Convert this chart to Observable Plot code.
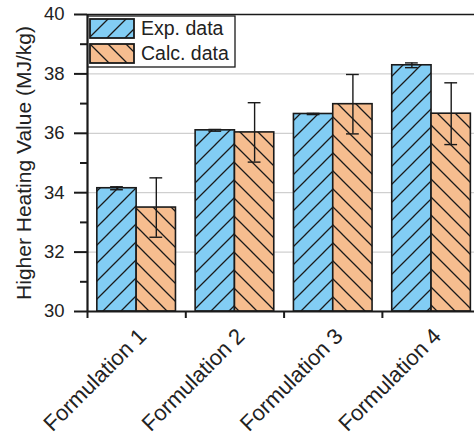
<!DOCTYPE html>
<html>
<head>
<meta charset="utf-8">
<script src="https://cdn.jsdelivr.net/npm/d3@7"></script>
<script src="https://cdn.jsdelivr.net/npm/@observablehq/plot@0.6"></script>
<style>
  html, body { margin: 0; padding: 0; background: #fff; }
  #chart svg { display: block; }
</style>
</head>
<body>
<div id="chart"></div>
<script>
// ---- data ----
const formulations = ["Formulation 1", "Formulation 2", "Formulation 3", "Formulation 4"];
const expValues  = [34.15, 36.10, 36.65, 38.29];
const expErrors  = [0.05, 0.03, 0.02, 0.08];
const calcValues = [33.50, 36.03, 36.98, 36.66];
const calcErrors = [1.00, 1.00, 1.00, 1.04];
const seriesNames = ["Exp. data", "Calc. data"];
const seriesColors = ["#82cdf4", "#f6bd8f"];
const yTicks = [30, 32, 34, 36, 38, 40];
const yMinorTicks = [31, 33, 35, 37, 39];
const yGrid = [32, 34, 36, 38];

// ---- table built from arrays ----
const barWidth = 0.4;
const rows = [];
formulations.forEach((name, i) => {
  [[expValues, expErrors], [calcValues, calcErrors]].forEach(([vals, errs], s) => {
    const x1 = (i + 1) - barWidth + s * barWidth;
    rows.push({name, series: s, x1, x2: x1 + barWidth, center: x1 + barWidth / 2,
      value: vals[i], lo: vals[i] - errs[i], hi: vals[i] + errs[i]});
  });
});
const capHalf = 0.065;
const patternIds = ["hatch-exp", "hatch-calc"];

const ink = "#1a1a1a";
const fontFamily = "'Liberation Sans', Arial, sans-serif";
const svg = Plot.plot({
  width: 474,
  height: 437,
  marginLeft: 87,
  marginRight: 0,
  marginTop: 14,
  marginBottom: 126,
  x: {domain: [0.5, 4.437], axis: null},
  y: {domain: [30, 40], axis: null},
  style: {fontFamily, background: "#fff", color: "#222"},
  marks: [
    Plot.ruleY(yGrid, {stroke: "#c4c4c4", strokeWidth: 1}),
    ...seriesNames.map((nm, s) =>
      Plot.rectY(rows.filter(d => d.series === s), {
        x1: "x1", x2: "x2", y1: 30, y2: "value",
        fill: `url(#${patternIds[s]})`, stroke: ink, strokeWidth: 1.6
      })),
    Plot.ruleX(rows, {x: "center", y1: "lo", y2: "hi", stroke: ink, strokeWidth: 1.4}),
    Plot.ruleY(rows, {y: "lo", x1: d => d.center - capHalf, x2: d => d.center + capHalf, stroke: ink, strokeWidth: 1.4}),
    Plot.ruleY(rows, {y: "hi", x1: d => d.center - capHalf, x2: d => d.center + capHalf, stroke: ink, strokeWidth: 1.4}),
    // frame lines
    Plot.ruleY([40], {stroke: ink, strokeWidth: 1.5}),
    Plot.ruleY([30], {stroke: ink, strokeWidth: 2.2}),
    Plot.ruleX([0.5], {stroke: ink, strokeWidth: 2.2}),
    // y axis
    Plot.axisY({ticks: yTicks, tickSize: 13, tickPadding: 10, fontSize: 18.5, label: null,
      tickFormat: d => String(d), strokeWidth: 2, stroke: ink, fill: "#222"}),
    Plot.axisY({ticks: yMinorTicks, tickSize: 7, label: null, tickFormat: () => "", strokeWidth: 2, stroke: ink}),
    // x axis ticks at group boundaries
    Plot.axisX({ticks: [0.5, 1.5, 2.5, 3.5], tickSize: 7, label: null, tickFormat: () => "", strokeWidth: 2, stroke: ink}),
    // x labels
    Plot.axisX({ticks: [1, 2, 3, 4], tickSize: 0, tickPadding: 6, label: null,
      tickFormat: i => formulations[i - 1], tickRotate: -45, fontSize: 22, dx: 6, dy: 15, fill: "#222"}),
    Plot.text(["Higher Heating Value (MJ/kg)"], {frameAnchor: "left", textAnchor: "middle", rotate: -90,
      dx: -63, fontSize: 21, fill: "#222"})
  ]
});

// pattern defs
const root = d3.select(svg);
const defs = root.insert("defs", ":first-child");
const paths = [
  "M0,18L18,0M-4.5,4.5L4.5,-4.5M13.5,22.5L22.5,13.5",
  "M0,0L18,18M-4.5,13.5L4.5,22.5M13.5,-4.5L22.5,4.5"
];
patternIds.forEach((id, s) => {
  const p = defs.append("pattern").attr("id", id).attr("patternUnits", "userSpaceOnUse")
    .attr("width", 18).attr("height", 18);
  p.append("rect").attr("width", 18).attr("height", 18).attr("fill", seriesColors[s]);
  p.append("path").attr("d", paths[s]).attr("stroke", ink).attr("stroke-width", 1.3).attr("fill", "none");
});

// legend (inside plot, top-left)
const lg = root.append("g").attr("class", "legend").attr("transform", "translate(88,16)");
lg.append("rect").attr("width", 147).attr("height", 51).attr("fill", "#fff").attr("stroke", ink).attr("stroke-width", 1.3);
seriesNames.forEach((nm, s) => {
  const g = lg.append("g").attr("transform", `translate(2,${3 + s * 25})`);
  g.append("rect").attr("width", 44).attr("height", 19).attr("fill", `url(#${patternIds[s]})`)
    .attr("stroke", ink).attr("stroke-width", 1.8);
  g.append("text").attr("x", 51).attr("y", 16).attr("font-size", 19.5).attr("fill", "#222")
    .attr("text-anchor", "start").attr("font-family", fontFamily).text(nm);
});

document.getElementById("chart").appendChild(svg);
</script>
</body>
</html>
